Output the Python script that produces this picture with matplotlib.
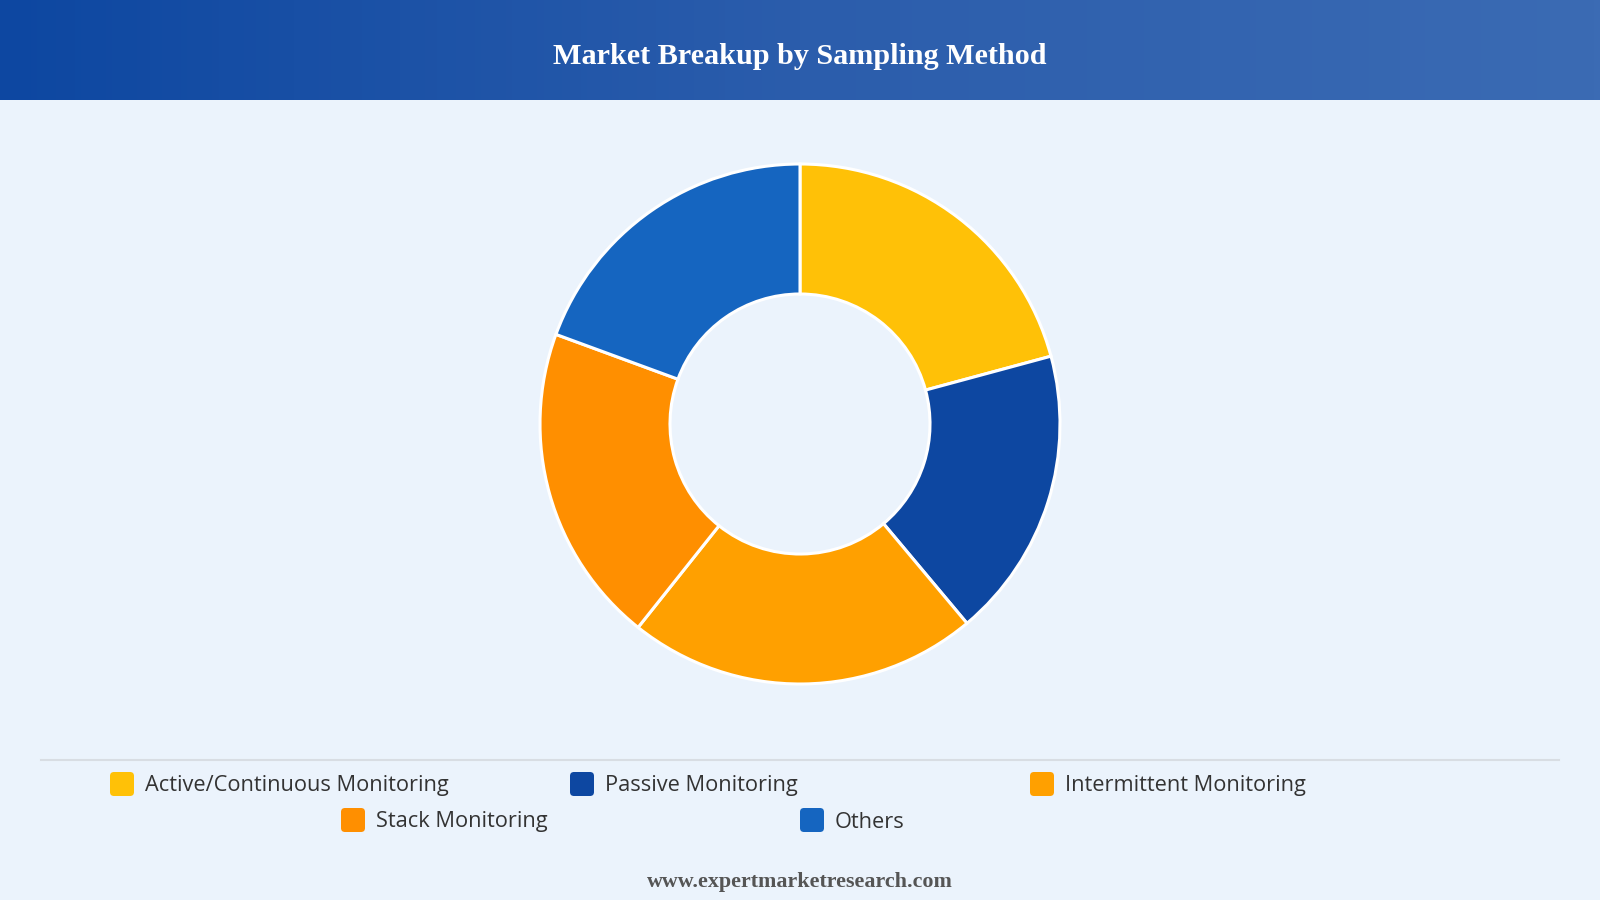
import matplotlib
matplotlib.use("Agg")
import matplotlib.pyplot as plt
import numpy as np
from matplotlib.patches import FancyBboxPatch
from matplotlib.colors import LinearSegmentedColormap

# ---- data ----
categories = ["Active/Continuous Monitoring", "Passive Monitoring", "Intermittent Monitoring",
              "Stack Monitoring", "Others"]
shares = [20.8, 18.1, 21.8, 19.9, 19.4]
colors = ["#FFC107", "#0D47A1", "#FFA000", "#FF8F00", "#1565C0"]
title = "Market Breakup by Sampling Method"
footer = "www.expertmarketresearch.com"

W, H = 1600, 900
BG = "#EBF3FC"
fig = plt.figure(figsize=(16, 9), dpi=100)
fig.patch.set_facecolor(BG)

# overlay axes in pixel coordinates (y down)
ov = fig.add_axes([0, 0, 1, 1])
ov.set_xlim(0, W)
ov.set_ylim(H, 0)
ov.axis("off")
ov.set_facecolor(BG)

# header gradient
cmap = LinearSegmentedColormap.from_list("hdr", ["#0D47A1", "#2B5DAC", "#3B6BB4"])
grad = np.linspace(0, 1, 256).reshape(1, -1)
ov.imshow(grad, extent=[0, W, 100, 0], aspect="auto", cmap=cmap, zorder=1)
ov.text(W / 2, 56, title, ha="center", va="center", color="white",
        fontsize=21.7, fontweight="bold", family="Liberation Serif", zorder=3)

# legend separator
ov.plot([41, 1559], [760, 760], color="#D8DDE3", lw=1.5, zorder=2)

# legend items
positions = [(110, 784), (570, 784), (1030, 784), (341, 820), (800, 820)]
for (x, y), lab, col in zip(positions, categories, colors):
    ov.add_patch(FancyBboxPatch((x + 3, y - 9), 18, 18,
                                boxstyle="round,pad=3,rounding_size=4",
                                fc=col, ec="none", zorder=3))
    ov.text(x + 35, y + 2, lab, ha="left", va="center", fontsize=15.7,
            color="#333333", family="Open Sans", zorder=3)

ov.text(W / 2, 882, footer, ha="center", va="center", fontsize=15.8,
        fontweight="bold", color="#555555", family="Liberation Serif", zorder=3)

# donut
cx, cy, R = 800, 424, 260
ax = fig.add_axes([(cx - R) / W, (H - cy - R) / H, 2 * R / W, 2 * R / H])
ax.set_facecolor("none")
ax.pie(shares, colors=colors, startangle=90, counterclock=False, radius=1,
       wedgeprops=dict(width=0.5, edgecolor="white", linewidth=2.2))
ax.set_xlim(-1.0, 1.0)
ax.set_ylim(-1.0, 1.0)
ax.axis("off")

fig.savefig("out.png", dpi=100, facecolor=BG)
